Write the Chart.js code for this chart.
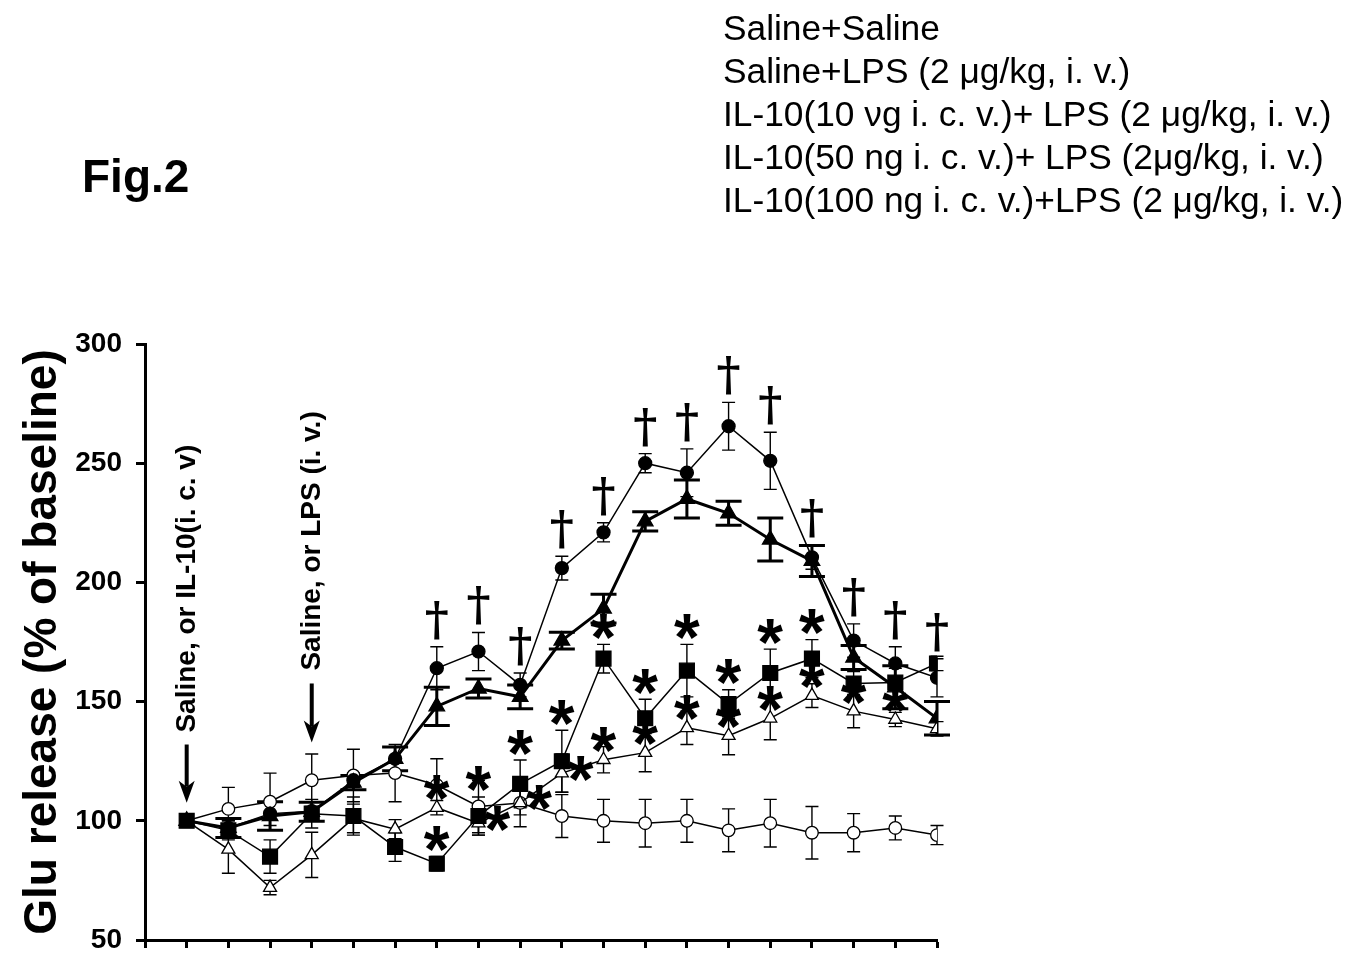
<!DOCTYPE html>
<html>
<head>
<meta charset="utf-8">
<script src="https://cdn.jsdelivr.net/npm/chart.js@4.4.0/dist/chart.umd.min.js"></script>
<style>
  html, body { margin: 0; padding: 0; background: #fff; overflow: hidden; }
  #wrap { position: relative; width: 1362px; height: 954px; overflow: hidden; }
  #chart { position: absolute; left: 0; top: 0; }
  .fig { position: absolute; left: 82px; top: 153px; font: bold 46px 'Liberation Sans', Arial, sans-serif; line-height: 46px; }
  .legend { position: absolute; left: 723px; top: 6px; font: 35.3px 'Liberation Sans', Arial, sans-serif; line-height: 43px; white-space: nowrap; color: #000; }
</style>
</head>
<body>
<div id="wrap">
  <canvas id="chart" width="1362" height="968"></canvas>
  <div class="fig">Fig.2</div>
  <div class="legend" id="legend"></div>
</div>
<script>
// sample number (x axis has no labels in the original)
const samples = [1, 2, 3, 4, 5, 6, 7, 8, 9, 10, 11, 12, 13, 14, 15, 16, 17, 18, 19];

const legendLabels = [
    'Saline+Saline',
    'Saline+LPS (2 \u03bcg/kg, i. v.)',
    'IL-10(10 \u03bdg i. c. v.)+ LPS (2 \u03bcg/kg, i. v.)',
    'IL-10(50 ng i. c. v.)+ LPS (2\u03bcg/kg, i. v.)',
    'IL-10(100 ng i. c. v.)+LPS (2 \u03bcg/kg, i. v.)'
];

// Glu release, % of baseline (mean and SEM)
const salineSaline    = [100, 105, 108, 117, 119, 120, 115, 106, 107.5, 102, 100, 99, 100, 96, 99, 95, 95, 97, 94];
const salineSalineErr = [0, 9, 12, 11, 11, 12, 11, 11, 10, 9, 9, 10, 9, 9, 10, 11, 8, 5, 4];

const salineLps    = [100, 97, 103, 104, 117, 126, 164, 171, 157, 206, 221, 250, 246, 265.5, 251, 210.5, 175.6, 166, 160];
const salineLpsErr = [0, 3, 5, 4, 3, 5, 9, 8, 5, 5, 4, 4, 10, 10, 12, 5, 7, 7, 8];

const il10_10    = [100, 97, 102, 103.8, 116, 126, 148, 155.5, 152, 175.6, 189, 225.6, 235, 229, 218, 209, 168.5, 156, 143];
const il10_10Err = [0, 4, 6, 4, 3, 5, 8, 4, 5, 3.5, 6, 4, 8, 5, 9, 6.5, 5, 9, 7];

const il10_50    = [100, 96, 85, 103, 102, 89, 82, 102, 115.5, 125, 168, 143, 163, 149, 162, 168, 157.6, 158, 166];
const il10_50Err = [0, 4, 7, 6, 8, 6, 3, 8, 10, 13, 6, 8, 11, 6, 10, 8, 5, 6, 3];

const il10_100    = [100, 88, 72, 85.7, 101, 96.5, 105.5, 99, 107.5, 120, 125.6, 128.6, 139, 135.7, 143, 152.5, 146, 142.5, 138.6];
const il10_100Err = [0, 10, 3, 9.5, 6, 4, 3, 5, 5, 8, 5.5, 8, 7, 8, 9, 5, 7, 3, 3];

// significance marks (sample numbers)
const daggerSamples = [7, 8, 9, 10, 11, 12, 13, 14, 15, 16, 17, 18, 19];   // Saline+LPS vs Saline+Saline
const starSquare    = [7, 8, 9, 10, 11, 12, 13, 14, 15, 16];               // IL-10 50 ng vs Saline+LPS
const starTriangle  = [7, 8, 9, 10, 11, 12, 13, 14, 15, 16, 17, 18];       // IL-10 100 ng vs Saline+LPS
const starShifted   = [8, 9, 10];

document.getElementById('legend').innerHTML = legendLabels.map(t => '<div>' + t + '</div>').join('');

const FONT = "'Liberation Sans', Arial, sans-serif";

const toPoints = (vals) => samples.map((s, i) => ({ x: s, y: vals[i] }));

const makeSet = (label, vals, errs, style) => Object.assign({
    label: label,
    data: toPoints(vals),
    errors: errs,
    borderColor: '#000',
    borderWidth: 1.5,
    pointBorderColor: '#000',
    pointBorderWidth: 1.3,
    tension: 0,
    errWidth: 1.4,
    errCap: 6.5
}, style);

// Chart.js paints dataset 0 last, so the filled markers sit on top
const datasets = [
    makeSet(legendLabels[1], salineLps, salineLpsErr, { pointStyle: 'circle', pointRadius: 6.5, pointBackgroundColor: '#000' }),
    makeSet(legendLabels[2], il10_10, il10_10Err, { pointStyle: 'triangle', pointRadius: 9, pointBackgroundColor: '#000', borderWidth: 3, errWidth: 3, errCap: 13 }),
    makeSet(legendLabels[3], il10_50, il10_50Err, { pointStyle: 'rect', pointRadius: 10.5, pointBackgroundColor: '#000' }),
    makeSet(legendLabels[4], il10_100, il10_100Err, { pointStyle: 'triangle', pointRadius: 7.5, pointBackgroundColor: '#fff' }),
    makeSet(legendLabels[0], salineSaline, salineSalineErr, { pointStyle: 'circle', pointRadius: 6.3, pointBackgroundColor: '#fff' })
];

// error bars drawn below the markers
const errorBars = {
    id: 'errorBars',
    beforeDatasetsDraw(chart) {
        const { ctx, scales: { x, y } } = chart;
        ctx.save();
        ctx.strokeStyle = '#000';
        chart.data.datasets.forEach(ds => {
            ctx.lineWidth = ds.errWidth;
            ds.data.forEach((p, i) => {
                const e = ds.errors[i];
                if (!e) return;
                const px = x.getPixelForValue(p.x);
                const top = y.getPixelForValue(p.y + e);
                const bot = y.getPixelForValue(p.y - e);
                ctx.beginPath();
                ctx.moveTo(px, top); ctx.lineTo(px, bot);
                ctx.moveTo(px - ds.errCap, top); ctx.lineTo(px + ds.errCap, top);
                ctx.moveTo(px - ds.errCap, bot); ctx.lineTo(px + ds.errCap, bot);
                ctx.stroke();
            });
        });
        ctx.restore();
    }
};

// draw a glyph centred (or bottom-anchored) on a point using its real ink box
function glyph(ctx, ch, font, cx, cy, anchor) {
    ctx.font = font;
    ctx.textAlign = 'left';
    ctx.textBaseline = 'alphabetic';
    const m = ctx.measureText(ch);
    const w = m.actualBoundingBoxLeft + m.actualBoundingBoxRight;
    const h = m.actualBoundingBoxAscent + m.actualBoundingBoxDescent;
    const x0 = cx - w / 2 + m.actualBoundingBoxLeft;
    const base = anchor === 'bottom' ? cy - m.actualBoundingBoxDescent : cy - h / 2 + m.actualBoundingBoxAscent;
    ctx.fillText(ch, x0, base);
}

const marks = {
    id: 'marks',
    afterDatasetsDraw(chart) {
        const { ctx, scales: { x, y } } = chart;
        ctx.save();
        ctx.fillStyle = '#000';
        ctx.strokeStyle = '#000';

        daggerSamples.forEach(s => {
            const i = samples.indexOf(s);
            const py = y.getPixelForValue(salineLps[i] + salineLpsErr[i]) - 7;
            glyph(ctx, '\u2020', "bold 46px 'DejaVu Serif'", x.getPixelForValue(s), py, 'bottom');
        });

        starSquare.forEach(s => {
            const i = samples.indexOf(s);
            const py = y.getPixelForValue(il10_50[i] + il10_50Err[i]) - 18;
            glyph(ctx, '*', 'bold 66px ' + FONT, x.getPixelForValue(s), py, 'center');
        });

        starTriangle.forEach(s => {
            const i = samples.indexOf(s);
            let px = x.getPixelForValue(s);
            let py = y.getPixelForValue(il10_100[i]) - 20;
            if (starShifted.includes(s)) { px += 19; py += 15; }
            glyph(ctx, '*', 'bold 66px ' + FONT, px, py, 'center');
        });

        // injection arrows with rotated captions
        const arrows = [
            { sample: 1, tip: 107.6, tail: 132, textStart: 137, text: 'Saline, or IL-10(i. c. v)' },
            { sample: 4, tip: 132.8, tail: 157.6, textStart: 163, text: 'Saline, or LPS (i. v.)' }
        ];
        arrows.forEach(a => {
            const px = x.getPixelForValue(a.sample);
            const tipY = y.getPixelForValue(a.tip);
            const tailY = y.getPixelForValue(a.tail);
            ctx.lineWidth = 4;
            ctx.beginPath();
            ctx.moveTo(px, tailY);
            ctx.lineTo(px, tipY - 16);
            ctx.stroke();
            ctx.beginPath();
            ctx.moveTo(px, tipY);
            ctx.lineTo(px - 8, tipY - 22);
            ctx.lineTo(px, tipY - 16);
            ctx.lineTo(px + 8, tipY - 22);
            ctx.closePath();
            ctx.fill();

            ctx.save();
            ctx.translate(px + 1, y.getPixelForValue(a.textStart));
            ctx.rotate(-Math.PI / 2);
            ctx.font = 'bold 28px ' + FONT;
            ctx.textAlign = 'left';
            ctx.textBaseline = 'middle';
            ctx.fillText(a.text, 0, 0);
            ctx.restore();
        });
        ctx.restore();
    }
};

new Chart(document.getElementById('chart'), {
    type: 'line',
    data: { datasets: datasets },
    options: {
        responsive: false,
        animation: false,
        devicePixelRatio: 1,
        layout: { padding: { top: 344, right: 425, bottom: 0, left: 0 } },
        plugins: { legend: { display: false }, tooltip: { enabled: false } },
        scales: {
            x: {
                type: 'linear',
                min: 0,
                max: 19,
                afterFit: (scale) => { scale.height = 14; },
                border: { color: '#000', width: 3 },
                grid: { drawOnChartArea: false, drawTicks: true, tickLength: 8, tickColor: '#000', tickWidth: 3 },
                ticks: { stepSize: 1, callback: () => '', font: { size: 1 } }
            },
            y: {
                min: 50,
                max: 300,
                afterFit: (scale) => { scale.width = 145; },
                border: { color: '#000', width: 3 },
                grid: { drawOnChartArea: false, drawTicks: true, tickLength: 9, tickColor: '#000', tickWidth: 3 },
                ticks: { stepSize: 50, color: '#000', padding: 14, font: { family: FONT, size: 28, weight: 'bold', lineHeight: 1 } },
                title: {
                    display: true,
                    text: 'Glu release (% of baseline)',
                    color: '#000',
                    padding: { top: 20, bottom: 0 },
                    font: { family: FONT, size: 46, weight: 'bold', lineHeight: 1 }
                }
            }
        }
    },
    plugins: [errorBars, marks]
});
</script>
</body>
</html>
